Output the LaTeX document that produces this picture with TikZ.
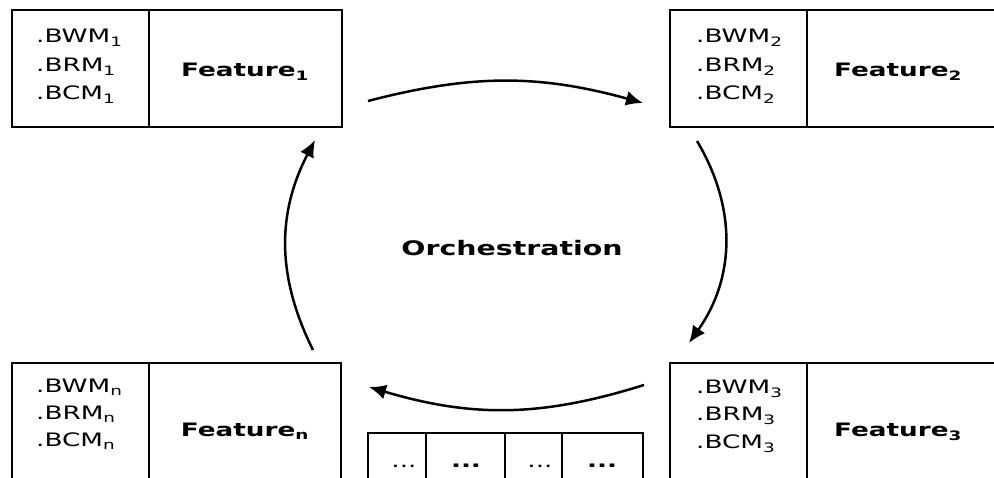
\documentclass[tikz,border=0pt]{standalone}
\usepackage{fontspec}
\setmainfont{DejaVu Sans}[FakeStretch=1.42]
\usetikzlibrary{arrows.meta}

\begin{document}
\begin{tikzpicture}[x=1pt,y=1pt,
        box/.style={line width=1.8pt},
        lbl/.style={anchor=base west,inner sep=0pt,font=\fontsize{18.5}{22}\selectfont},
        feat/.style={anchor=base,inner sep=0pt,font=\fontsize{18.5}{22}\selectfont\bfseries},
        dots/.style={anchor=base,inner sep=0pt,font=\fontsize{18.5}{22}\selectfont},
        flow/.style={line width=2.5pt,-{Latex[length=17pt,width=15pt]}}]
            \clip (0,0) rectangle (994,478);

            % feature boxes
            \draw[box] (12,468) rectangle (342,351);
            \draw[box] (149,468) -- (149,351);
            \draw[box] (1000,468) -- (670,468) -- (670,351) -- (1000,351);
            \draw[box] (807,468) -- (807,351);
            \draw[box] (12,-5) -- (12,115) -- (341,115) -- (341,-5);
            \draw[box] (149,115) -- (149,-5);
            \draw[box] (670,-5) -- (670,115) -- (1000,115);
            \draw[box] (807,115) -- (807,-5);
            \draw[box] (368,-5) -- (368,45) -- (643,45) -- (643,-5);
            \foreach \x in {426,505,562}
                \draw[box] (\x,45) -- (\x,-5);

            \node[lbl] (bwm1) at (36,435) {.BWM\textsubscript{1}};
            \node[lbl] (brm1) at (36,406) {.BRM\textsubscript{1}};
            \node[lbl] (bcm1) at (36,378) {.BCM\textsubscript{1}};
            \node[feat] (f1) at (245,401) {Feature\textsubscript{1}};

            \node[lbl] (bwm2) at (696,435) {.BWM\textsubscript{2}};
            \node[lbl] (brm2) at (696,406) {.BRM\textsubscript{2}};
            \node[lbl] (bcm2) at (696,378) {.BCM\textsubscript{2}};
            \node[feat] (f2) at (898,401) {Feature\textsubscript{2}};

            \node[lbl] (bwm3) at (696,84) {.BWM\textsubscript{3}};
            \node[lbl] (brm3) at (696,57) {.BRM\textsubscript{3}};
            \node[lbl] (bcm3) at (696,29) {.BCM\textsubscript{3}};
            \node[feat] (f3) at (898,41) {Feature\textsubscript{3}};

            \node[lbl] (bwmn) at (36,85) {.BWM\textsubscript{n}};
            \node[lbl] (brmn) at (36,58) {.BRM\textsubscript{n}};
            \node[lbl] (bcmn) at (36,31) {.BCM\textsubscript{n}};
            \node[feat] (fn) at (245,41) {Feature\textsubscript{n}};

            \node[dots] (d1) at (404,10) {...};
            \node[dots] (d2) at (466,10) {\textbf{...}};
            \node[dots] (d3) at (540,10) {...};
            \node[dots] (d4) at (602,10) {\textbf{...}};

            \node[anchor=base,font=\fontsize{20}{24}\selectfont\bfseries] (orch) at (512,222) {Orchestration};

            % cycle between the features
            \coordinate (a1s) at (368,377);
            \coordinate (a1e) at (643,375);
            \coordinate (a2s) at (697,337);
            \coordinate (a2e) at (689,135);
            \coordinate (a3s) at (644,93);
            \coordinate (a3e) at (369,91);
            \coordinate (a4s) at (313,128);
            \coordinate (a4e) at (315,338);

            \draw[flow] (a1s) to[bend left=15] (a1e);
            \draw[flow] (a2s) to[bend left=33] (a2e);
            \draw[flow] (a3s) to[bend left=17] (a3e);
            \draw[flow] (a4s) to[bend left=27] (a4e);
        \end{tikzpicture}
\end{document}
